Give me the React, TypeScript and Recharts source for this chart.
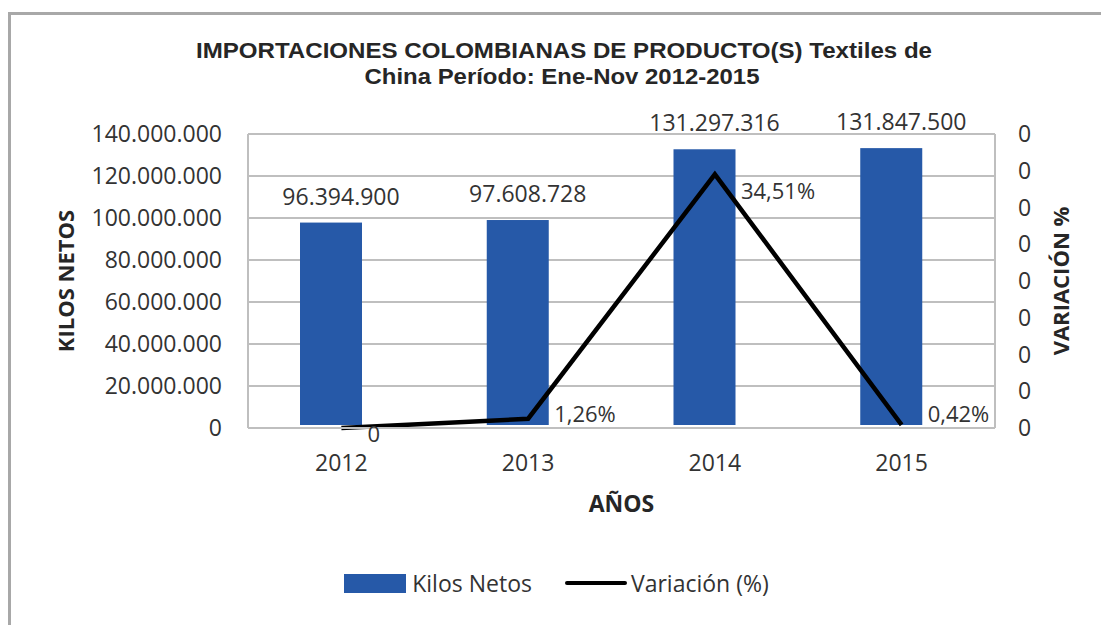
import React from "react";
import {
  ComposedChart,
  Bar,
  Line,
  XAxis,
  YAxis,
  CartesianGrid,
  Legend,
  LabelList,
  Customized,
} from "recharts";

const years = ["2012", "2013", "2014", "2015"];
const kilosNetos = [96394900, 97608728, 131297316, 131847500];
const variacion = [0, 0.0126, 0.3451, 0.0042];
const kilosTicks = [0, 20000000, 40000000, 60000000, 80000000, 100000000, 120000000, 140000000];
const variacionTicks = [0, 0.05, 0.1, 0.15, 0.2, 0.25, 0.3, 0.35, 0.4];

const data = years.map((year, i) => ({ year, kilos: kilosNetos[i], variacion: variacion[i] }));

const FONT = "'Open Sans', sans-serif";
const BLUE = "#2659A8";
const GRID = "#bfbfbf";
const TEXT = "#333333";

const fmtMiles = (v: number) => String(Math.round(v)).replace(/\B(?=(\d{3})+(?!\d))/g, ".");
const fmtPct = (v: number) => (v === 0 ? "0" : (v * 100).toFixed(2).replace(".", ",") + "%");

// excel put the bars a bit left of the category centre
const ShiftedBar = (props: any) => {
  const { x, y, width, height, fill } = props;
  return <rect x={x - 10} y={y - 3} width={width} height={height} fill={fill} />;
};

const lineLabelDy = [5, -6, 16, -12];

const VariacionLabel = (props: any) => {
  const { x, y, value, index } = props;
  return (
    <text
      x={x + 26}
      y={y + (lineLabelDy[index] ?? 0)}
      dominantBaseline="central"
      fontFamily={FONT}
      fontSize={22}
      fill={TEXT}
    >
      {fmtPct(value)}
    </text>
  );
};

const AxisTitle = (props: any) => {
  const { viewBox, text, dx } = props;
  const cx = (viewBox?.x ?? 0) + dx;
  const cy = (viewBox?.y ?? 0) + (viewBox?.height ?? 0) / 2;
  return (
    <text
      x={cx}
      y={cy}
      transform={`rotate(-90, ${cx}, ${cy})`}
      textAnchor="middle"
      dominantBaseline="central"
      fontFamily={FONT}
      fontWeight="bold"
      fontSize={22}
      fill="#262626"
    >
      {text}
    </text>
  );
};

const Title = () => (
  <g fontFamily="'Liberation Sans Narrow', 'Liberation Sans', Arial, sans-serif" fontWeight="bold" fontSize={22} fill="#262626">
    <text x={564} y={58} textAnchor="middle" textLength={736} lengthAdjust="spacingAndGlyphs">
      IMPORTACIONES COLOMBIANAS DE PRODUCTO(S) Textiles de
    </text>
    <text x={562} y={84} textAnchor="middle" textLength={395} lengthAdjust="spacingAndGlyphs">
      China Período: Ene-Nov 2012-2015
    </text>
  </g>
);

const LegendContent = () => (
  <div
    style={{
      display: "flex",
      alignItems: "center",
      justifyContent: "center",
      fontFamily: FONT,
      fontSize: 23,
      color: TEXT,
      paddingLeft: 12,
    }}
  >
    <span style={{ width: 62, height: 19, background: BLUE, display: "inline-block", marginRight: 6 }} />
    <span>Kilos Netos</span>
    <span
      style={{ width: 62, height: 4, background: "#000", display: "inline-block", marginLeft: 33, marginRight: 4, borderRadius: 2 }}
    />
    <span>Variación (%)</span>
  </div>
);

export default function App() {
  return (
    <div style={{ position: "absolute", left: 0, top: 0, width: 1101, height: 625, background: "#fff" }}>
      <div
        style={{
          position: "absolute",
          left: 8,
          top: 12,
          width: 1100,
          height: 620,
          borderTop: "3px solid #a8a8a8",
          borderLeft: "3px solid #a8a8a8",
        }}
      />
      <ComposedChart width={1101} height={625} data={data} margin={{ top: 134, right: 0, bottom: 97, left: 0 }}>
        <CartesianGrid yAxisId="left" vertical={false} stroke={GRID} strokeWidth={2} />
        <XAxis
          dataKey="year"
          height={100}
          interval={0}
          tickLine={false}
          axisLine={{ stroke: GRID, strokeWidth: 2 }}
          tickSize={0}
          tickMargin={27}
          tick={{ fontFamily: FONT, fontSize: 23, fill: TEXT }}
          label={{
            value: "AÑOS",
            position: "insideBottom",
            offset: 16,
            fontFamily: FONT,
            fontWeight: "bold",
            fontSize: 23,
            fill: "#262626",
          }}
        />
        <YAxis
          yAxisId="left"
          width={248}
          domain={[0, 140000000]}
          ticks={kilosTicks}
          interval={0}
          tickFormatter={fmtMiles}
          tickLine={false}
          axisLine={{ stroke: GRID, strokeWidth: 2 }}
          tickSize={0}
          tickMargin={26}
          tick={{ fontFamily: FONT, fontSize: 23, fill: TEXT }}
          label={<AxisTitle text="KILOS NETOS" dx={65} />}
        />
        <YAxis
          yAxisId="right"
          orientation="right"
          width={106}
          domain={[0, 0.4]}
          ticks={variacionTicks}
          interval={0}
          tickFormatter={() => "0"}
          tickLine={false}
          axisLine={{ stroke: GRID, strokeWidth: 2 }}
          tickSize={0}
          tickMargin={23}
          tick={{ fontFamily: FONT, fontSize: 23, fill: TEXT }}
          label={<AxisTitle text="VARIACIÓN %" dx={65} />}
        />
        <Bar yAxisId="left" dataKey="kilos" name="Kilos Netos" fill={BLUE} barSize={62} shape={ShiftedBar} isAnimationActive={false}>
          <LabelList
            dataKey="kilos"
            position="top"
            offset={21}
            formatter={(v: any) => fmtMiles(Number(v))}
            style={{ fontFamily: FONT, fontSize: 23, fill: TEXT }}
          />
        </Bar>
        <Line
          yAxisId="right"
          dataKey="variacion"
          name="Variación (%)"
          type="linear"
          stroke="#000"
          strokeWidth={4.5}
          dot={false}
          activeDot={false}
          isAnimationActive={false}
        >
          <LabelList dataKey="variacion" content={VariacionLabel} />
        </Line>
        <Legend
          layout="horizontal"
          verticalAlign="middle"
          align="center"
          wrapperStyle={{ top: 567, left: 0, width: 1101 }}
          content={LegendContent}
        />
        <Customized component={Title} />
      </ComposedChart>
    </div>
  );
}
